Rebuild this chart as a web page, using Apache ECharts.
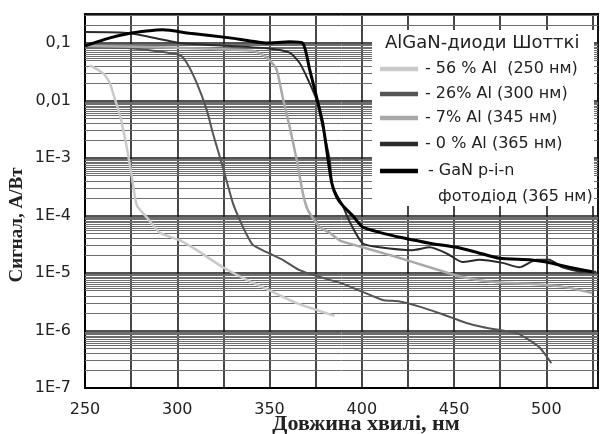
<!DOCTYPE html>
<html><head><meta charset="utf-8">
<script src="https://cdn.jsdelivr.net/npm/echarts@6/dist/echarts.min.js"></script>
<style>html,body{margin:0;padding:0;background:#fff}#c{width:600px;height:434px}</style>
</head><body><div id="c"></div>
<script>
// Wavelength (nm) and signal (A/W) for each photodiode
const wl56 = [252.7, 259.7, 263.5, 265.2, 268.9, 272.7, 275.4, 278.1, 283.5, 290.6, 301.4, 310.6, 324.7, 337.7, 351.7, 364.7, 385.3];
const sig56 = [0.041, 0.030, 0.020, 0.0135, 0.0056, 0.0015, 4.7e-4, 1.5e-4, 9.3e-5, 5.0e-5, 3.7e-5, 2.5e-5, 1.26e-5, 7.6e-6, 4.7e-6, 3.0e-6, 1.8e-6];

const wl26 = [250, 274.4, 301.4, 305.2, 310.6, 316.0, 319.3, 324.7, 330.1, 333.9, 337.7, 340.9, 348.5, 357.1, 366.3, 377.2, 388.0, 400.4, 411.3, 420.5, 431.3, 442.1, 449.1, 456.7, 465.4, 474.6, 483.8, 490.8, 496.2, 500.0, 502.7];
const sig26 = [0.085, 0.081, 0.062, 0.045, 0.020, 0.0068, 0.0027, 6.9e-4, 1.66e-4, 8.3e-5, 4.6e-5, 3.1e-5, 2.3e-5, 1.7e-5, 1.12e-5, 8.5e-6, 6.8e-6, 4.7e-6, 3.4e-6, 3.2e-6, 2.6e-6, 2.0e-6, 1.66e-6, 1.35e-6, 1.15e-6, 1.02e-6, 9.1e-7, 6.8e-7, 5.1e-7, 3.6e-7, 2.7e-7];

const wl7 = [250, 300, 340, 346, 350.1, 353.9, 357.1, 360.9, 364.7, 368.0, 370.7, 377.2, 382.6, 388.0, 400.4, 418.8, 436.7, 454.5, 472.9, 490.8, 508.7, 524.9];
const sig7 = [0.089, 0.083, 0.074, 0.063, 0.050, 0.034, 0.0115, 0.0035, 9.3e-4, 2.5e-4, 1.26e-4, 6.3e-5, 5.0e-5, 3.7e-5, 2.8e-5, 1.9e-5, 1.26e-5, 8.5e-6, 6.9e-6, 6.5e-6, 5.8e-6, 4.5e-6];

const wl0 = [250, 274.4, 301.4, 328.5, 348.5, 360.9, 366.3, 370.1, 375.5, 378.8, 382.6, 384.2, 389.6, 393.4, 400.4, 409.6, 427.5, 436.7, 445.9, 454.5, 463.7, 476.2, 485.4, 494.6, 501.6, 508.7, 519.5, 527.1];
const sig0 = [0.155, 0.148, 0.100, 0.089, 0.081, 0.068, 0.045, 0.026, 0.0102, 0.0035, 9.3e-4, 3.2e-4, 1.5e-4, 7.8e-5, 3.3e-5, 2.8e-5, 2.5e-5, 2.8e-5, 2.2e-5, 1.55e-5, 1.7e-5, 1.5e-5, 1.26e-5, 1.7e-5, 1.7e-5, 1.26e-5, 1.05e-5, 1.05e-5];

const wlGaN = [250, 263.5, 274.4, 283.5, 292.2, 306.8, 328.5, 348.5, 360.9, 368.0, 371.8, 375.5, 378.8, 381.5, 383.7, 386.4, 389.6, 395.0, 400.4, 409.6, 422.1, 436.7, 451.3, 462.1, 474.6, 490.8, 500.0, 512.4, 524.9];
const sigGaN = [0.089, 0.123, 0.148, 0.162, 0.170, 0.148, 0.123, 0.100, 0.105, 0.100, 0.034, 0.0115, 0.0041, 0.00105, 3.7e-4, 2.1e-4, 1.5e-4, 1.0e-4, 6.3e-5, 5.1e-5, 4.1e-5, 3.3e-5, 2.8e-5, 2.3e-5, 1.8e-5, 1.7e-5, 1.55e-5, 1.26e-5, 1.05e-5];

// Tick labels
const xTickLabels = [250, 300, 350, 400, 450, 500];
const yTickExp = [-7, -6, -5, -4, -3, -2, -1];
const yTickLabels = ['1E-7', '1E-6', '1E-5', '1E-4', '1E-3', '0,01', '0,1'];
// Minor log grid multipliers within each decade
const minorMult = [2, 3, 4, 5, 5.5, 6, 6.5, 7, 7.5, 8, 8.5, 9, 9.5];

const xTitle = 'Довжина хвилі, нм';
const yTitle = 'Сигнал, А/Вт';
const legendTitle = 'AlGaN-диоди Шотткі';
const legendItems = ['- 56 % Al  (250 нм)', '- 26% Al (300 нм)', '- 7% Al (345 нм)', '- 0 % Al (365 нм)', '- GaN p-i-n'];
const legendExtra = 'фотодіод (365 нм)';
const colors = ['#c9c9c9', '#555555', '#a9a9a9', '#2b2b2b', '#000000'];

const X_MIN = 250, X_MAX = 528;
const Y_MIN = 1e-7, Y_MAX = 0.32;
const minorLines = [];
yTickExp.forEach(e => minorMult.forEach(k => {
  const v = k * Math.pow(10, e);
  if (v < Y_MAX) minorLines.push({ coords: [[X_MIN, v], [X_MAX, v]] });
}));

function pairs(x, y) { return x.map((v, i) => [v, y[i]]); }

const FONT = 'DejaVu Sans';
const SERIF = 'Liberation Serif';
const chart = echarts.init(document.getElementById('c'), null, { renderer: 'canvas' });

const legendX = 380, legendTextX = 425;
const legendYs = [69, 94, 118, 144, 171];
const graphics = [
  { type: 'rect', shape: { x: 372, y: 30, width: 222, height: 176 }, style: { fill: '#fff' }, z: 100 },
  { type: 'text', x: 385, y: 43, z: 101, style: { text: legendTitle, font: '18px "' + FONT + '"', fill: '#222', textVerticalAlign: 'middle' } },
  { type: 'text', x: 366, y: 424, z: 101, style: { text: xTitle, font: 'bold 22px "' + SERIF + '"', fill: '#222', textAlign: 'center', textVerticalAlign: 'middle' } },
  { type: 'text', x: 17, y: 225, rotation: Math.PI / 2, z: 101, style: { text: yTitle, font: 'bold 19px "' + SERIF + '"', fill: '#222', textAlign: 'center', textVerticalAlign: 'middle' } }
];
legendItems.forEach((t, i) => {
  graphics.push({ type: 'line', z: 101, shape: { x1: legendX, y1: legendYs[i], x2: legendX + 38, y2: legendYs[i] }, style: { stroke: colors[i], lineWidth: 4.5 } });
  graphics.push({ type: 'text', z: 101, x: i === 4 ? 428 : legendTextX, y: legendYs[i], style: { text: t, font: '16px "' + FONT + '"', fill: '#222', textVerticalAlign: 'middle' } });
});
graphics.push({ type: 'text', z: 101, x: 438, y: 197, style: { text: legendExtra, font: '16px "' + FONT + '"', fill: '#222', textVerticalAlign: 'middle' } });

const series = [
  { name: 'minor grid', type: 'lines', coordinateSystem: 'cartesian2d', polyline: false, silent: true, z: 1,
    lineStyle: { color: '#6e6e6e', width: 1, opacity: 1 }, data: minorLines }
];
const all = [[wl56, sig56, 2.5], [wl26, sig26, 2], [wl7, sig7, 2.5], [wl0, sig0, 2], [wlGaN, sigGaN, 3]];
all.forEach((d, i) => series.push({
  name: legendItems[i], type: 'line', data: pairs(d[0], d[1]), showSymbol: false, symbol: 'none',
  z: 3 + i, lineStyle: { color: colors[i], width: d[2] }, smooth: 0.2
}));

chart.setOption({
  backgroundColor: '#fff',
  animation: false,
  grid: { left: 85, top: 14, width: 513, height: 374, show: true, borderColor: '#000', borderWidth: 2,
    backgroundColor: 'transparent', containLabel: false, outerBoundsMode: 'none' },
  xAxis: {
    type: 'value', min: X_MIN, max: X_MAX, interval: 25,
    axisLine: { show: true, lineStyle: { color: '#000', width: 2 } },
    axisTick: { show: false },
    axisLabel: { fontFamily: FONT, fontSize: 16, color: '#222', margin: 14,
      formatter: v => xTickLabels.indexOf(Math.round(v)) >= 0 && Math.abs(v - Math.round(v)) < 1e-6 ? String(Math.round(v)) : '' },
    splitLine: { show: true, lineStyle: { color: '#1a1a1a', width: 1.6 } }
  },
  yAxis: {
    type: 'log', min: Y_MIN, max: Y_MAX, interval: 1, logBase: 10,
    axisLine: { show: true, lineStyle: { color: '#000', width: 2 } },
    axisTick: { show: false },
    minorTick: { show: false },
    axisLabel: { fontFamily: FONT, fontSize: 16, color: '#222', margin: 14,
      formatter: v => {
        const l = Math.log10(v), e = Math.round(l);
        if (Math.abs(l - e) > 0.01) return '';
        const idx = yTickExp.indexOf(e);
        return idx >= 0 ? yTickLabels[idx] : '';
      } },
    splitLine: { show: true, lineStyle: { color: '#1a1a1a', width: 1.6 } }
  },
  graphic: graphics,
  series: series
});
</script>
</body></html>
